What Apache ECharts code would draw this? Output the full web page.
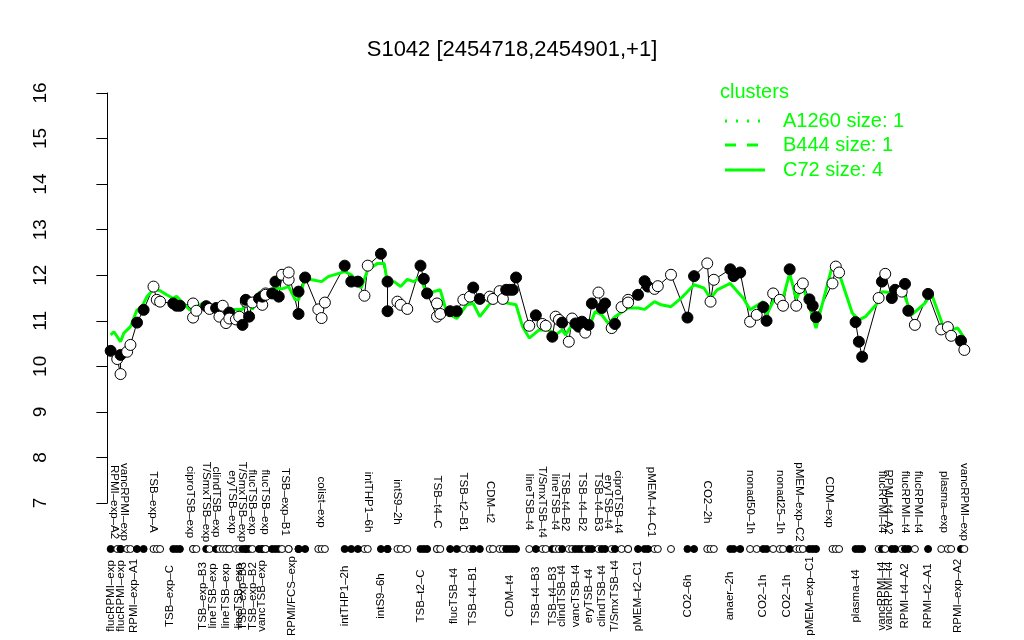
<!DOCTYPE html>
<html><head><meta charset="utf-8">
<script src="https://cdn.jsdelivr.net/npm/echarts@6/dist/echarts.min.js"></script>
<style>html,body{margin:0;padding:0;background:#fff}#c{width:1024px;height:640px}</style>
</head><body><div id="c"></div>
<script>
// position of each measurement along the condition axis
const pos = [1,3,4,4,6,7,9,11,14,15,16,20,21,22,26,26,27,30,31,33,34,35,36,37,37,39,40,41,42,42,43,44,46,47,47,48,48,50,51,52,53,55,55,58,58,60,64,65,66,72,74,76,78,79,83,85,85,88,89,91,95,96,97,100,100,101,104,106,108,110,111,113,116,117,119,120,121,122,123,124,128,130,132,133,135,136,137,138,140,141,142,143,144,145,146,147,149,150,151,153,154,156,158,158,161,163,164,166,167,171,176,178,182,183,184,189,190,192,195,197,199,200,202,204,205,207,209,210,211,213,214,215,220,221,222,227,228,229,234,235,236,238,239,241,242,243,245,249,253,255,256,259,260];
// expression value of S1042 at each position
const expr = [10.34,10.16,9.83,10.25,10.32,10.47,10.96,11.24,11.75,11.46,11.42,11.38,11.33,11.33,11.38,11.07,11.22,11.32,11.26,11.28,11.09,11.33,10.95,11.18,11.05,11.03,11.09,10.91,11.42,11.46,11.09,11.40,11.49,11.35,11.53,11.60,11.57,11.60,11.86,11.53,12.01,11.90,12.06,11.15,11.64,11.95,11.25,11.06,11.40,12.21,11.86,11.86,11.55,12.21,12.47,11.86,11.21,11.42,11.35,11.26,12.21,11.92,11.60,11.09,11.38,11.15,11.21,11.21,11.46,11.53,11.73,11.48,11.53,11.48,11.65,11.48,11.68,11.68,11.68,11.95,10.89,11.12,10.93,10.89,10.65,11.09,11.02,10.96,10.54,11.05,10.94,10.87,10.98,10.74,10.91,11.38,11.62,11.28,11.38,10.84,10.93,11.30,11.46,11.40,11.57,11.87,11.75,11.70,11.76,12.01,11.07,11.98,12.26,11.42,11.90,12.13,11.98,12.06,10.98,11.13,11.30,11.00,11.60,11.46,11.33,12.13,11.33,11.72,11.82,11.47,11.33,11.08,11.82,12.19,12.06,10.97,10.54,10.21,11.50,11.86,12.03,11.50,11.68,11.64,11.81,11.22,10.91,11.59,10.81,10.86,10.67,10.56,10.36];
// 1 = filled marker, 0 = open marker
const filled = [1,0,0,1,0,0,1,1,0,0, 0,1,1,1,0,0,0,1,0,1, 0,0,0,1,0,0,0,1,0,1, 1,0,1,0,1,0,0,1,1,1, 0,0,0,1,1,1,0,0,0,1, 1,1,0,0,1,1,1,0,0,0, 1,1,1,0,0,0,1,1,0,0, 1,1,0,0,0,0,1,1,1,1, 0,1,0,0,1,0,0,1,0,0, 1,1,1,0,1,1,0,1,1,0, 1,0,0,0,1,1,1,0,0,0, 1,1,0,0,0,1,1,1,0,0, 1,1,0,0,0,1,0,0,0,1, 1,1,0,0,0,1,1,1,0,1, 0,1,1,0,1,1,0,1,0,0, 0,1,0];
// cluster C72 mean profile
const c72Pos = [1,2,4,5,7,9,10,12,14,16,18,20,21,22,25,30,31,33,38,41,42,44,46,48,51,53,55,57,58,60,65,67,72,74,77,79,82,84,85,87,89,91,93,95,97,99,101,103,106,109,111,113,117,122,124,126,128,131,134,136,138,139,141,143,145,147,148,150,152,154,158,161,163,166,168,171,174,178,181,183,185,189,193,195,199,200,203,205,207,209,211,213,215,220,222,226,228,230,234,235,237,239,242,244,248,250,254,256,258,260];
const c72Val = [10.69,10.76,10.54,10.73,10.87,11.24,11.24,11.53,11.69,11.66,11.57,11.49,11.54,11.46,11.24,11.42,11.31,11.29,11.25,11.25,11.46,11.25,11.62,11.64,11.72,11.70,11.75,11.46,11.46,11.93,11.86,11.97,12.08,12.01,11.72,12.12,12.26,12.26,11.82,11.86,11.75,11.91,11.86,11.97,11.54,11.64,11.68,11.17,11.05,11.35,11.38,11.09,11.46,11.38,11.35,10.87,10.62,10.80,10.80,10.69,10.80,10.69,10.91,10.80,10.87,11.02,11.20,11.13,10.94,11.09,11.28,11.28,11.25,11.42,11.35,11.31,11.49,11.79,11.72,11.49,11.68,11.82,11.49,11.24,11.42,11.13,11.57,11.50,12.04,11.49,11.75,11.31,10.84,12.22,12.04,11.17,11.02,11.09,11.42,11.64,11.62,11.68,11.53,11.13,11.38,11.60,10.80,10.80,10.84,10.62];
// condition labels below the rug
const lowerLabelPos = [1,4,8,19,29,32,36,40,41,44,47,56,72,83,95,105,111,122,130,135,138,142,146,150,154,161,176,189,199,206,213,227,235,237,242,249,258];
const lowerLabels = ['flucRPMI\u2013exp','flucRPMI\u2013exp','RPMI\u2013exp\u2013A1','TSB\u2013exp\u2013C','TSB\u2013exp\u2013B3','lineTSB\u2013exp','lineTSB\u2013exp','lineTSB\u2013exp','TSB\u2013exp\u2013B3','TSB\u2013exp\u2013B2','vancTSB\u2013exp','RPMI/FCS\u2013exp','intTHP1\u20132h','intS9\u20136h','TSB\u2013t2\u2013C','flucTSB\u2013t4','TSB\u2013t4\u2013B1','CDM\u2013t4','TSB\u2013t4\u2013B3','TSB\u2013t4\u2013B3','clindTSB\u2013t4','vancTSB\u2013t4','eryTSB\u2013t4','clindTSB\u2013t4','T/SmxTSB\u2013t4','pMEM\u2013t2\u2013C1','CO2\u20136h','anaer\u20132h','CO2\u20131h','CO2\u20131h','pMEM\u2013exp\u2013C1','plasma\u2013t4','vancRPMI\u2013t4','vancRPMI\u2013t4','RPMI\u2013t4\u2013A2','RPMI\u2013t2\u2013A1','RPMI\u2013exp\u2013A2'];
// condition labels above the rug
const upperLabelPos = [2,5,14,25,30,33,38,41,44,48,54,65,79,88,100,108,116,128,132,136,139,144,149,152,155,165,182,195,204,210,219,235,237,242,246,254,260];
const upperLabels = ['RPMI\u2013exp\u2013A2','vancRPMI\u2013exp','TSB\u2013exp\u2013A','ciproTSB\u2013exp','T/SmxTSB\u2013exp','clindTSB\u2013exp','eryTSB\u2013exp','T/SmxTSB\u2013exp','flucTSB\u2013exp','flucTSB\u2013exp','TSB\u2013exp\u2013B1','colist\u2013exp','intTHP1\u20136h','intS9\u20132h','TSB\u2013t4\u2013C','TSB\u2013t2\u2013B1','CDM\u2013t2','lineTSB\u2013t4','T/SmxTSB\u2013t4','lineTSB\u2013t4','TSB\u2013t4\u2013B2','TSB\u2013t4\u2013B2','TSB\u2013t4\u2013B3','eryTSB\u2013t4','ciproTSB\u2013t4','pMEM\u2013t4\u2013C1','CO2\u20132h','nonad50\u20131h','nonad25\u20131h','pMEM\u2013exp\u2013C2','CDM\u2013exp','flucRPMI\u2013t4','RPMI\u2013t4\u2013A2','flucRPMI\u2013t4','flucRPMI\u2013t4','plasma\u2013exp','vancRPMI\u2013exp'];
const legendNames = ['A1260 size: 1','B444 size: 1','C72 size: 4'];
const titleText = 'S1042 [2454718,2454901,+1]';

const FONT = '"Liberation Sans", Arial, Helvetica, sans-serif';
const GREEN = '#00ff00';
const X_MIN = -9, X_MAX = 268;
const lowerMap = {}; lowerLabelPos.forEach((p, i) => { lowerMap[p] = lowerLabels[i]; });
const upperMap = {}; upperLabelPos.forEach((p, i) => { upperMap[p] = upperLabels[i]; });

const markStyle = f => ({ color: f ? '#000' : '#fff', borderColor: '#000', borderWidth: 1, opacity: 1 });
const pointData = pos.map((p, i) => ({ value: [p, expr[i]], itemStyle: markStyle(filled[i]) }));
const rugData = pos.map((p, i) => ({ value: [p, 0], itemStyle: markStyle(filled[i]) }));

const gridLeft = 77.7, gridRight = 33.3;
const xLabelBase = { rotate: 90, align: 'center', verticalAlign: 'middle', margin: 41,
  fontSize: 11.5, fontFamily: FONT, color: '#000' };

const chart = echarts.init(document.getElementById('c'), null, { renderer: 'canvas' });
chart.setOption({
  animation: false,
  backgroundColor: '#fff',
  title: { text: titleText, left: 'center', top: 34,
    textStyle: { fontSize: 22, fontWeight: 'normal', fontFamily: FONT, color: '#000' } },
  grid: [
    { left: gridLeft, right: gridRight, top: 93, height: 410 },
    { left: gridLeft, right: gridRight, top: 543, height: 12 }
  ],
  xAxis: [
    { gridIndex: 0, type: 'value', min: X_MIN, max: X_MAX, show: false },
    { gridIndex: 1, type: 'value', min: X_MIN, max: X_MAX, interval: 1, position: 'bottom',
      axisLine: { show: false }, axisTick: { show: false }, splitLine: { show: false },
      axisLabel: Object.assign({}, xLabelBase, { formatter: v => lowerMap[v] || '' }) },
    { gridIndex: 1, type: 'value', min: X_MIN, max: X_MAX, interval: 1, position: 'top',
      axisLine: { show: false }, axisTick: { show: false }, splitLine: { show: false },
      axisLabel: Object.assign({}, xLabelBase, { formatter: v => upperMap[v] || '' }) }
  ],
  yAxis: [
    { gridIndex: 0, type: 'value', min: 7, max: 16, interval: 1,
      axisLine: { show: true, lineStyle: { color: '#000', width: 1 } },
      axisTick: { show: true, length: 11, lineStyle: { color: '#000', width: 1 } },
      splitLine: { show: false },
      axisLabel: { rotate: 90, align: 'center', verticalAlign: 'middle', margin: 37,
        fontSize: 19, fontFamily: FONT, color: '#000' } },
    { gridIndex: 1, type: 'value', min: -1, max: 1, show: false }
  ],
  series: [
    { type: 'line', xAxisIndex: 0, yAxisIndex: 0, data: pos.map((p, i) => [p, expr[i]]),
      symbol: 'none', lineStyle: { color: '#000', width: 1 }, z: 1, silent: true },
    { type: 'line', xAxisIndex: 0, yAxisIndex: 0, data: c72Pos.map((p, i) => [p, c72Val[i]]),
      symbol: 'none', lineStyle: { color: GREEN, width: 3 }, z: 2, silent: true },
    { type: 'scatter', xAxisIndex: 0, yAxisIndex: 0, data: pointData, symbol: 'circle',
      symbolSize: 11, z: 3, clip: false, silent: true, itemStyle: { opacity: 1 } },
    { type: 'scatter', xAxisIndex: 1, yAxisIndex: 1, data: rugData, symbol: 'circle',
      symbolSize: 7, z: 3, clip: false, silent: true, itemStyle: { opacity: 1 } }
  ],
  graphic: [
    { type: 'text', x: 720, y: 92, style: { text: 'clusters', fill: GREEN, font: '20px ' + FONT, verticalAlign: 'middle' } },
    { type: 'line', shape: { x1: 725, y1: 121, x2: 765, y2: 121 }, style: { stroke: GREEN, lineWidth: 3, lineDash: [2, 9] } },
    { type: 'line', shape: { x1: 725, y1: 145, x2: 765, y2: 145 }, style: { stroke: GREEN, lineWidth: 3, lineDash: [11, 11] } },
    { type: 'line', shape: { x1: 725, y1: 170, x2: 765, y2: 170 }, style: { stroke: GREEN, lineWidth: 3 } },
    { type: 'text', x: 783, y: 121, style: { text: legendNames[0], fill: GREEN, font: '20px ' + FONT, verticalAlign: 'middle' } },
    { type: 'text', x: 783, y: 145, style: { text: legendNames[1], fill: GREEN, font: '20px ' + FONT, verticalAlign: 'middle' } },
    { type: 'text', x: 783, y: 170, style: { text: legendNames[2], fill: GREEN, font: '20px ' + FONT, verticalAlign: 'middle' } }
  ]
});
</script>
</body></html>
